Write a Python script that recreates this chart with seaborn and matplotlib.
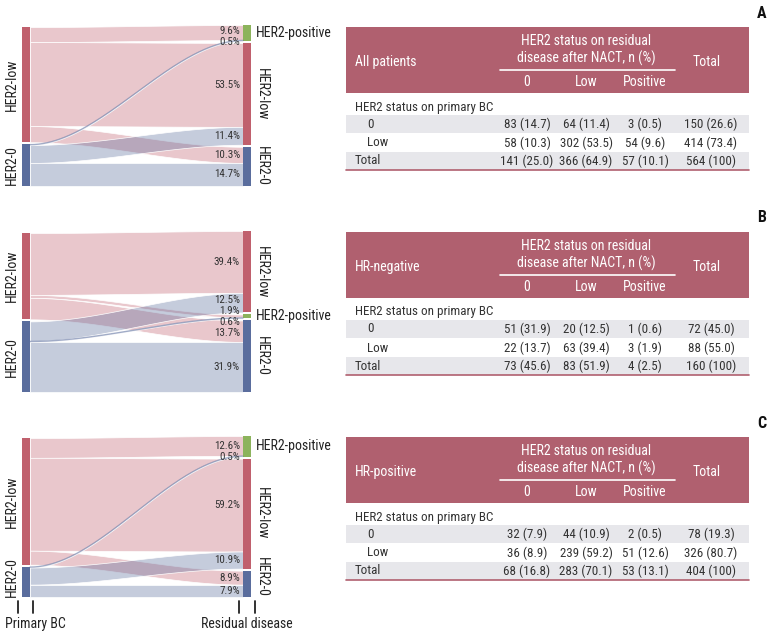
import matplotlib
matplotlib.use("Agg")
import matplotlib.pyplot as plt
from matplotlib import font_manager as fm
from matplotlib.colors import to_rgba
from matplotlib.patches import Rectangle
import seaborn as sns
import numpy as np

sns.set_theme(style="white")

# pick a narrow font if one is installed, else shrink a regular one
fonts = {(f.name, f.stretch) for f in fm.fontManager.ttflist}
names = {f[0] for f in fonts}
FS = 1.0
if "Liberation Sans Narrow" in names:
    plt.rcParams['font.family'] = ['Liberation Sans Narrow', 'DejaVu Sans']
elif "Roboto Condensed" in names:
    plt.rcParams['font.family'] = ['Roboto Condensed', 'DejaVu Sans']
elif ("DejaVu Sans", "condensed") in fonts or ("DejaVu Sans", "semi-condensed") in fonts:
    plt.rcParams['font.family'] = ['DejaVu Sans']
    plt.rcParams['font.stretch'] = 'condensed'
    FS = 0.97
else:
    plt.rcParams['font.family'] = ['Roboto', 'DejaVu Sans']
    FS = 0.86

panel_names = ["All patients", "HR-negative", "HR-positive"]
panel_letters = ["A", "B", "C"]
col_labels = ["0", "Low", "Positive"]
row_labels = ["0", "Low", "Total"]

# rows: primary 0, primary Low, Total ; cols: residual 0, Low, Positive, Total
all_n = [[83, 64, 3, 150], [58, 302, 54, 414], [141, 366, 57, 564]]
all_pct = [[14.7, 11.4, 0.5, 26.6], [10.3, 53.5, 9.6, 73.4], [25.0, 64.9, 10.1, 100]]
hrneg_n = [[51, 20, 1, 72], [22, 63, 3, 88], [73, 83, 4, 160]]
hrneg_pct = [[31.9, 12.5, 0.6, 45.0], [13.7, 39.4, 1.9, 55.0], [45.6, 51.9, 2.5, 100]]
hrpos_n = [[32, 44, 2, 78], [36, 239, 51, 326], [68, 283, 53, 404]]
hrpos_pct = [[7.9, 10.9, 0.5, 19.3], [8.9, 59.2, 12.6, 80.7], [16.8, 70.1, 13.1, 100]]

# order of the residual disease nodes, top to bottom
right_order = [["Positive", "Low", "0"], ["Low", "Positive", "0"], ["Positive", "Low", "0"]]
left_order = ["Low", "0"]

node_col = {"Low": "#c0606d", "0": "#5a6d9d", "Positive": "#8cb35c"}
node_name = {"Low": "HER2-low", "0": "HER2-0", "Positive": "HER2-positive"}
HEAD = "#b0606f"
GRAY = "#e7e7eb"
TXT = "#333333"

GAP = 1.3
SK_LEFT, SK_W, SK_H = 22, 229, 161   # px
W = 8 / SK_W
UNIT = SK_H / (100 + 2 * GAP)        # px per percent


def px2x(px):
    return (px - SK_LEFT) / SK_W


def spread(ys, sp):
    groups = [[y] for y in ys]
    merged = True
    while merged:
        merged = False
        for i in range(len(groups) - 1):
            a, b = groups[i], groups[i + 1]
            a_low = np.mean(a) - sp * (len(a) - 1) / 2
            b_high = np.mean(b) + sp * (len(b) - 1) / 2
            if a_low - b_high < sp:
                groups[i] = a + b
                del groups[i + 1]
                merged = True
                break
    out = []
    for g in groups:
        c = np.mean(g)
        out += [c + sp * ((len(g) - 1) / 2 - k) for k in range(len(g))]
    return out


def draw_sankey(ax, pct, order):
    flow = {}
    for i, src in enumerate(["0", "Low"]):
        for j, dst in enumerate(col_labels):
            flow[(src, dst)] = pct[i][j]
    ltot = {"0": pct[0][3], "Low": pct[1][3]}
    rtot = {d: sum(flow[(s, d)] for s in left_order) for d in order}

    lnode, rnode = {}, {}
    y = 100 + GAP
    for s in left_order:
        lnode[s] = (y - ltot[s], y)
        y -= ltot[s] + GAP
    y = 100 + 2 * GAP
    for d in order:
        rnode[d] = (y - rtot[d], y)
        y -= rtot[d] + GAP

    lpos, rpos = {}, {}
    for s in left_order:
        y = lnode[s][1]
        for d in order:
            lpos[(s, d)] = (y - flow[(s, d)], y)
            y -= flow[(s, d)]
    for d in order:
        y = rnode[d][1]
        for s in left_order:
            rpos[(s, d)] = (y - flow[(s, d)], y)
            y -= flow[(s, d)]

    xs = np.linspace(W, 1 - W, 200)
    t = (xs - W) / (1 - 2 * W)
    sm = t * t * (3 - 2 * t)
    for s in left_order:
        for d in order:
            v = flow[(s, d)]
            lb, lt = lpos[(s, d)]
            rb, rt = rpos[(s, d)]
            bot = lb + (rb - lb) * sm
            top = lt + (rt - lt) * sm
            ax.fill_between(xs, bot, top, facecolor=to_rgba(node_col[s], 0.35),
                            edgecolor="white", linewidth=0.5)
            if v < 1:
                ax.plot(xs, (bot + top) / 2, color=node_col[s], alpha=0.55, lw=1.0)

    for s in left_order:
        b, tp = lnode[s]
        ax.bar(W / 2, tp - b, bottom=b, width=W, color=node_col[s], linewidth=0)
        yc = max((b + tp) / 2, b + 20 / UNIT)
        ax.text(px2x(12), yc, node_name[s], rotation=90, ha="center", va="center",
                fontsize=10 * FS, color="#222222", clip_on=False)
    for d in order:
        b, tp = rnode[d]
        ax.bar(1 - W / 2, tp - b, bottom=b, width=W, color=node_col[d], linewidth=0)
        if d == "Positive":
            ax.text(px2x(256), (b + tp) / 2, node_name[d], ha="left", va="center",
                    fontsize=10 * FS, color="#222222", clip_on=False)
        else:
            yc = max((b + tp) / 2, b + 20 / UNIT)
            ax.text(px2x(262), yc, node_name[d], rotation=270, ha="center", va="center",
                    fontsize=10 * FS, color="#222222", clip_on=False)

    labs = []
    for d in order:
        for s in left_order:
            rb, rt = rpos[(s, d)]
            labs.append(((rb + rt) / 2, flow[(s, d)]))
    ys = spread([l[0] for l in labs], 11 / UNIT)
    for (yc, v), yl in zip(labs, ys):
        ax.text(px2x(240), yl, f"{v:.1f}%", ha="right", va="center",
                fontsize=7.9 * FS, color=TXT, clip_on=False)

    ax.set_xlim(0, 1)
    ax.set_ylim(0, 100 + 2 * GAP)
    ax.axis("off")


def fmt(p):
    return "100" if p == 100 else f"{p:.1f}"


def draw_table(bg, top, name, n, pct):
    x0, x1 = 346, 749
    col_x = [527, 586, 645]
    bg.add_patch(Rectangle((x0, top), x1 - x0, 66, facecolor=HEAD, linewidth=0))
    hd = dict(color="white", fontsize=10 * FS, va="center")
    bg.text(355, top + 35, name, ha="left", **hd)
    bg.text(586, top + 14, "HER2 status on residual", ha="center", **hd)
    bg.text(586, top + 31, "disease after NACT, n (%)", ha="center", **hd)
    bg.plot([500, 675], [top + 43, top + 43], color="white", lw=1.2)
    for cx, lab in zip(col_x, col_labels):
        bg.text(cx, top + 55, lab, ha="center", **hd)
    bg.text(707, top + 35, "Total", ha="center", **hd)

    bd = dict(color=TXT, fontsize=9.4 * FS, va="center")
    bg.text(355, top + 80, "HER2 status on primary BC", ha="left", **bd)
    row_y = [top + 97, top + 116, top + 134]
    for k, ry in enumerate(row_y):
        if k != 1:
            bg.add_patch(Rectangle((x0, ry - 9), x1 - x0, 18, facecolor=GRAY, linewidth=0))
        bg.text(355 if k == 2 else 367, ry, row_labels[k], ha="left", **bd)
        for j, cx in enumerate(col_x + [711]):
            bg.text(cx, ry, f"{n[k][j]} ({fmt(pct[k][j])})", ha="center", **bd)
    bg.plot([x0, x1], [top + 143, top + 143], color=HEAD, lw=1.2)


fig = plt.figure(figsize=(7.72, 6.38), dpi=100)
bg = fig.add_axes([0, 0, 1, 1])
bg.set_xlim(0, 772)
bg.set_ylim(638, 0)
bg.axis("off")

table_tops = [27, 232, 437]
sankey_bottoms = [186, 392, 597]
letter_y = [14, 218, 424]
all_counts = [all_n, hrneg_n, hrpos_n]
all_pcts = [all_pct, hrneg_pct, hrpos_pct]

for k in range(3):
    ax = fig.add_axes([SK_LEFT / 772, 1 - sankey_bottoms[k] / 638, SK_W / 772, SK_H / 638])
    draw_sankey(ax, all_pcts[k], right_order[k])
    draw_table(bg, table_tops[k], panel_names[k], all_counts[k], all_pcts[k])
    bg.text(762, letter_y[k], panel_letters[k], ha="center", va="center",
            fontsize=11.5, fontweight="bold", color="#111111")

# axis ticks and captions under the bottom diagram
for xp in [18, 33, 239, 255]:
    bg.plot([xp, xp], [601, 613], color="#222222", lw=1.3)
bg.text(5, 624, "Primary BC", ha="left", va="center", fontsize=10 * FS, color="#222222")
bg.text(247, 624, "Residual disease", ha="center", va="center", fontsize=10 * FS, color="#222222")

fig.savefig("out.png", dpi=100)
